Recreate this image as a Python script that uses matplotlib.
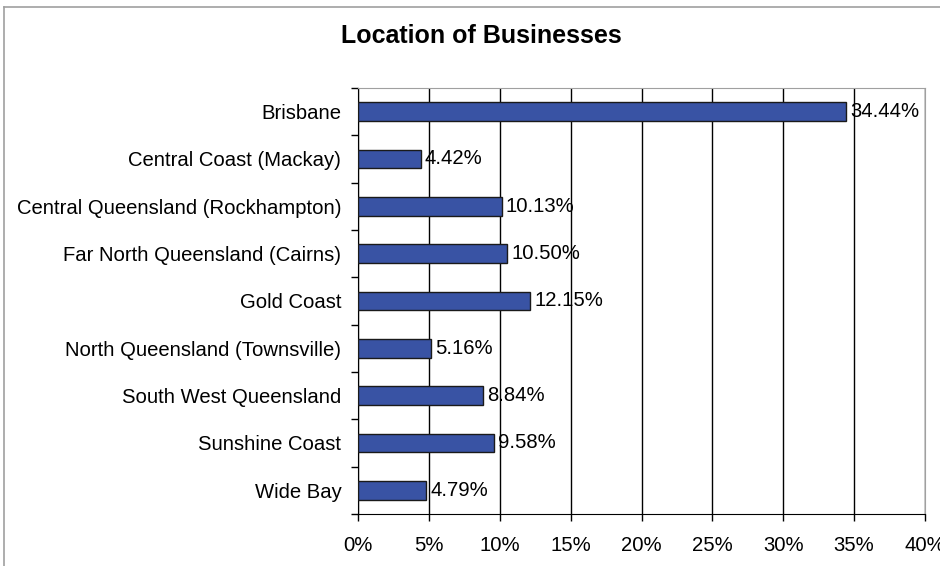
import matplotlib.pyplot as plt
from matplotlib.lines import Line2D
import numpy as np

plt.rcParams['font.family'] = ['Liberation Sans', 'DejaVu Sans']

regions = ['Brisbane', 'Central Coast (Mackay)', 'Central Queensland (Rockhampton)',
           'Far North Queensland (Cairns)', 'Gold Coast', 'North Queensland (Townsville)',
           'South West Queensland', 'Sunshine Coast', 'Wide Bay']
shares = [34.44, 4.42, 10.13, 10.50, 12.15, 5.16, 8.84, 9.58, 4.79]
xticks = [0, 5, 10, 15, 20, 25, 30, 35, 40]

fig = plt.figure(figsize=(9.4, 5.66), dpi=100)
ax = fig.add_axes([358 / 940, 1 - 514 / 566, (925 - 358) / 940, (514 - 88) / 566])

# outer chart frame (top and left edges visible)
fig.add_artist(Line2D([4 / 940, 1], [1 - 7 / 566, 1 - 7 / 566], color='#a0a0a0', lw=1.2))
fig.add_artist(Line2D([4 / 940, 4 / 940], [0, 1 - 7 / 566], color='#a0a0a0', lw=1.2))

y = np.arange(len(regions))
ax.barh(y, shares, height=0.4, color='#3953a4', edgecolor='#1a1a1a', linewidth=1, zorder=3)
for yi, v in zip(y, shares):
    ax.text(v + 0.3, yi, f'{v:.2f}%', va='center', ha='left', fontsize=14.6, zorder=4)

ax.set_ylim(len(regions) - 0.5, -0.5)
ax.set_xlim(0, 40)
ax.set_xticks(xticks)
ax.set_xticklabels([f'{t}%' for t in xticks], fontsize=14.6)
ax.set_yticks(y)
ax.set_yticklabels(regions, fontsize=14.6)
ax.set_yticks(np.arange(len(regions) + 1) - 0.5, minor=True)
ax.tick_params(axis='y', which='major', length=0, pad=12)
ax.tick_params(axis='y', which='minor', length=5, width=1, direction='out')
ax.tick_params(axis='x', length=5, width=1, direction='out', pad=11)

ax.grid(axis='x', color='black', linewidth=1, zorder=0)
ax.spines['left'].set_color('black')
ax.spines['bottom'].set_color('black')
ax.spines['top'].set_color('#a0a0a0')
ax.spines['right'].set_color('#a0a0a0')

fig.text(481 / 940, 1 - 36 / 566, 'Location of Businesses', ha='center', va='center',
         fontsize=18, fontweight='bold')

fig.savefig('out.png', dpi=100)
